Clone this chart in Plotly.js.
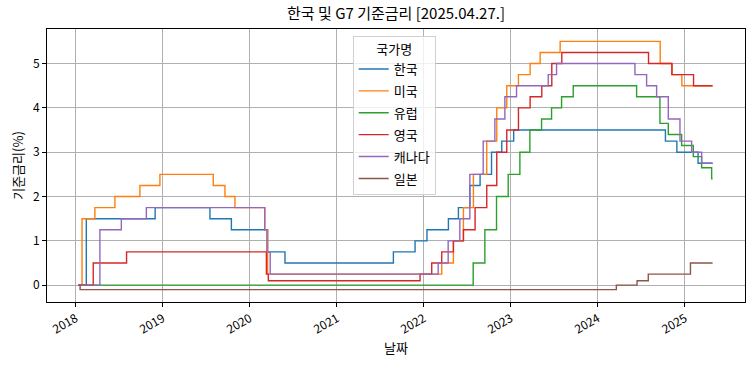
<!DOCTYPE html>
<html>
<head>
<meta charset="utf-8">
<script src="https://cdn.plot.ly/plotly-3.0.1.min.js"></script>
<style>html,body{margin:0;padding:0;background:#fff;}</style>
</head>
<body>
<div id="chart" style="width:754px;height:365px;"></div>
<script>
// 국가별 기준금리 변경일과 금리(%)
const countries = ['한국', '미국', '유럽', '영국', '캐나다', '일본'];

const krDates = ['2018-01-12','2018-02-14','2018-11-30','2019-07-18','2019-10-16','2020-03-16','2020-05-28','2021-08-26','2021-11-25','2022-01-14','2022-04-14','2022-05-26','2022-07-13','2022-08-25','2022-10-12','2022-11-24','2023-01-13','2024-10-11','2024-11-28','2025-02-25','2025-04-27'];
const krRates = [0, 1.5, 1.75, 1.5, 1.25, 0.75, 0.5, 0.75, 1.0, 1.25, 1.5, 1.75, 2.25, 2.5, 3.0, 3.25, 3.5, 3.25, 3.0, 2.75, 2.75];

const usDates = ['2018-01-12','2018-01-27','2018-03-22','2018-06-14','2018-09-27','2018-12-20','2019-08-01','2019-09-19','2019-10-31','2020-03-04','2020-03-16','2022-03-17','2022-05-05','2022-06-16','2022-07-28','2022-09-22','2022-11-03','2022-12-15','2023-02-02','2023-03-23','2023-05-04','2023-07-27','2024-09-19','2024-11-08','2024-12-19','2025-04-27'];
const usRates = [0, 1.5, 1.75, 2.0, 2.25, 2.5, 2.25, 2.0, 1.75, 1.25, 0.25, 0.5, 1.0, 1.75, 2.5, 3.25, 4.0, 4.5, 4.75, 5.0, 5.25, 5.5, 5.0, 4.75, 4.5, 4.5];

const euDates = ['2018-01-12','2022-07-27','2022-09-14','2022-11-02','2022-12-21','2023-02-08','2023-03-22','2023-05-10','2023-06-21','2023-08-02','2023-09-20','2024-06-12','2024-09-18','2024-10-23','2024-12-18','2025-02-05','2025-03-12','2025-04-23','2025-04-27'];
const euRates = [0, 0.5, 1.25, 2.0, 2.5, 3.0, 3.5, 3.75, 4.0, 4.25, 4.5, 4.25, 3.65, 3.4, 3.15, 2.9, 2.65, 2.4, 2.4];

const ukDates = ['2018-01-12','2018-03-15','2018-08-02','2020-03-11','2020-03-19','2021-12-16','2022-02-03','2022-03-17','2022-05-05','2022-06-16','2022-08-04','2022-09-22','2022-11-03','2022-12-15','2023-02-02','2023-03-23','2023-05-11','2023-06-22','2023-08-03','2024-08-01','2024-11-07','2025-02-06','2025-04-27'];
const ukRates = [0, 0.5, 0.75, 0.25, 0.1, 0.25, 0.5, 0.75, 1.0, 1.25, 1.75, 2.25, 3.0, 3.5, 4.0, 4.25, 4.5, 5.0, 5.25, 5.0, 4.75, 4.5, 4.5];

const caDates = ['2018-01-12','2018-04-12','2018-07-11','2018-10-24','2020-03-04','2020-03-13','2020-03-27','2022-03-02','2022-04-13','2022-06-01','2022-07-13','2022-09-07','2022-10-26','2022-12-07','2023-01-25','2023-06-07','2023-07-12','2024-06-05','2024-07-24','2024-09-04','2024-10-23','2024-12-11','2025-01-29','2025-03-12','2025-04-27'];
const caRates = [0, 1.25, 1.5, 1.75, 1.25, 0.75, 0.25, 0.5, 1.0, 1.5, 2.5, 3.25, 3.75, 4.25, 4.5, 4.75, 5.0, 4.75, 4.5, 4.25, 3.75, 3.25, 3.0, 2.75, 2.75];

const jpDates = ['2018-01-12','2018-01-19','2024-03-19','2024-06-14','2024-07-31','2025-01-24','2025-04-27'];
const jpRates = [0, -0.1, 0.0, 0.1, 0.25, 0.5, 0.5];

const yearTicks = ['2018-01-01','2019-01-01','2020-01-01','2021-01-01','2022-01-01','2023-01-01','2024-01-01','2025-01-01'];
const yearLabels = ['2018','2019','2020','2021','2022','2023','2024','2025'];

const seriesDates = [krDates, usDates, euDates, ukDates, caDates, jpDates];
const seriesRates = [krRates, usRates, euRates, ukRates, caRates, jpRates];
const colors = ['#1f77b4', '#ff7f0e', '#2ca02c', '#d62728', '#9467bd', '#8c564b'];

const FONT = '"Noto Sans CJK KR", "Noto Sans", sans-serif';

const traces = countries.map((name, i) => ({
  type: 'scatter',
  mode: 'lines',
  name: name,
  legendgroup: 'g' + i,
  x: seriesDates[i],
  y: seriesRates[i],
  line: {color: colors[i], width: 1.4, shape: 'hv'}
}));

const axisCommon = {
  showline: true, mirror: true, linecolor: '#000', linewidth: 1,
  ticks: 'outside', ticklen: 4, tickcolor: '#000', tickwidth: 1,
  showgrid: true, gridcolor: '#b0b0b0', gridwidth: 1,
  zeroline: false,
  tickfont: {family: FONT, size: 12, color: '#000'}
};

const layout = {
  width: 754, height: 365,
  margin: {l: 47, r: 9, t: 29, b: 63},
  paper_bgcolor: '#fff', plot_bgcolor: '#fff',
  font: {family: FONT, color: '#000'},
  title: {
    text: '한국 및 G7 기준금리 [2025.04.27.]',
    font: {family: FONT, size: 15, color: '#000'},
    x: 0.5, xref: 'paper', xanchor: 'center',
    y: 1 - 14 / 365, yref: 'container', yanchor: 'middle'
  },
  xaxis: Object.assign({}, axisCommon, {
    type: 'date',
    range: ['2017-09-02', '2025-09-10'],
    tickmode: 'array', tickvals: yearTicks, ticktext: yearLabels,
    tickangle: -30,
    title: {text: '날짜', font: {family: FONT, size: 13, color: '#000'}, standoff: 8}
  }),
  yaxis: Object.assign({}, axisCommon, {
    range: [-0.38, 5.78],
    tick0: 0, dtick: 1,
    title: {text: '기준금리(%)', font: {family: FONT, size: 13, color: '#000'}, standoff: 6}
  }),
  showlegend: true,
  legend: {
    x: 0.438, y: 0.974, xanchor: 'left', yanchor: 'top',
    bgcolor: 'rgba(255,255,255,0.8)', bordercolor: '#d0d0d0', borderwidth: 1,
    font: {family: FONT, size: 13, color: '#000'},
    title: {text: '국가명', side: 'top center', font: {family: FONT, size: 13, color: '#000'}},
    itemwidth: 30,
    tracegroupgap: 2
  }
};

Plotly.newPlot('chart', traces, layout, {displayModeBar: false, staticPlot: true});
</script>
</body>
</html>
